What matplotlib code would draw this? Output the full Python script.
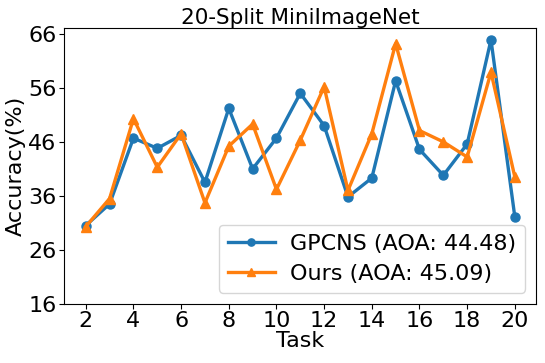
import numpy as np
import matplotlib
matplotlib.use("Agg")
import matplotlib.pyplot as plt

# данные
tasks = np.arange(2, 21)
gpcns = [30.5, 34.5, 46.7, 44.8, 47.2, 38.5, 52.2, 41.0, 46.7, 55.0,
         49.0, 35.8, 39.3, 57.3, 44.6, 39.8, 45.6, 64.9, 32.1]
ours = [30.3, 35.5, 50.3, 41.3, 47.5, 34.7, 45.2, 49.3, 37.2, 46.3,
        56.2, 37.0, 47.5, 64.2, 48.1, 46.0, 43.2, 58.9, 39.5]
labels = ['GPCNS (AOA: 44.48)', 'Ours (AOA: 45.09)']

fig, ax = plt.subplots(figsize=(5.45, 3.63), dpi=100)
ax.plot(tasks, gpcns, marker='o', lw=2.4, ms=6.5, color='tab:blue', label=labels[0])
ax.plot(tasks, ours, marker='^', lw=2.4, ms=6.5, color='tab:orange', label=labels[1])

ax.set_title('20-Split MiniImageNet', fontsize=15.5, pad=3)
ax.set_xlabel('Task', fontsize=16, labelpad=0)
ax.set_ylabel('Accuracy(%)', fontsize=16, labelpad=2)
ax.set_xticks(np.arange(2, 21, 2))
ax.set_yticks(np.arange(16, 67, 10))
ax.set_ylim(16, 67.1)
ax.tick_params(labelsize=16, pad=2)
ax.legend(fontsize=16, loc='lower right', handlelength=2.1, borderpad=0.4,
          labelspacing=0.45, handletextpad=0.7, markerscale=0.8)

plt.subplots_adjust(left=0.118, right=0.984, top=0.923, bottom=0.163)
plt.savefig('out.png')
